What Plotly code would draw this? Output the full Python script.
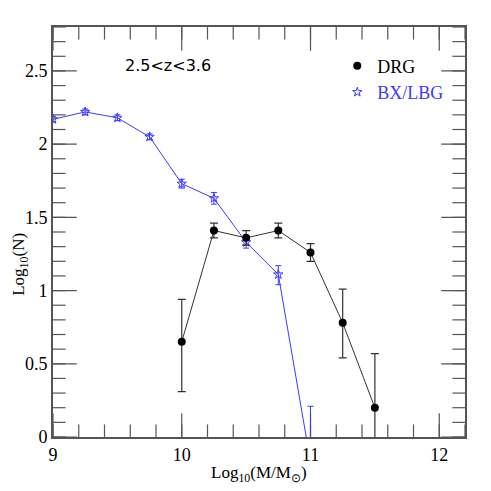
import plotly.graph_objects as go

# DRG sample
drg_x = [10.0, 10.25, 10.5, 10.75, 11.0, 11.25, 11.5]
drg_y = [0.65, 1.41, 1.36, 1.41, 1.26, 0.78, 0.20]
drg_err_up = [0.29, 0.05, 0.05, 0.05, 0.06, 0.23, 0.37]
drg_err_dn = [0.34, 0.05, 0.05, 0.05, 0.06, 0.24, 0.40]

# BX/LBG sample
bx_x = [9.0, 9.25, 9.5, 9.75, 10.0, 10.25, 10.5, 10.75, 11.0]
bx_y = [2.17, 2.22, 2.18, 2.05, 1.73, 1.63, 1.33, 1.11, -0.17]
bx_err_up = [0.02, 0.02, 0.02, 0.02, 0.03, 0.04, 0.04, 0.06, 0.38]
bx_err_dn = [0.02, 0.02, 0.02, 0.02, 0.03, 0.04, 0.04, 0.07, 0.40]

# axis ranges and tick positions
x_range = [9, 12.2]
y_range = [0, 2.8]
x_major = [9, 10, 11, 12]
x_minor = [round(9 + 0.2 * i, 1) for i in range(17)]
y_major = [0, 0.5, 1, 1.5, 2, 2.5]
y_minor = [round(0.1 * i, 1) for i in range(29)]

blue = '#3a3aff'
serif = 'Liberation Serif'
frame = '#555555'

fig = go.Figure()


# inside tick marks on all four sides, drawn as clipped line markers
def add_ticks(xs, ys, symbol, size):
    fig.add_trace(go.Scatter(x=xs, y=ys, mode='markers', showlegend=False, hoverinfo='skip',
                             marker=dict(symbol=symbol, size=size, color=frame,
                                         line=dict(width=1.2, color=frame))))


for vals, size in [(x_major, 34), (x_minor, 18)]:
    add_ticks(vals, [y_range[0]] * len(vals), 'line-ns', size)
    add_ticks(vals, [y_range[1]] * len(vals), 'line-ns', size)
for vals, size in [(y_major, 34), (y_minor, 18)]:
    add_ticks([x_range[0]] * len(vals), vals, 'line-ew', size)
    add_ticks([x_range[1]] * len(vals), vals, 'line-ew', size)

fig.add_trace(go.Scatter(
    x=bx_x, y=bx_y, mode='lines+markers', showlegend=False,
    line=dict(color=blue, width=1),
    marker=dict(symbol='star-open', size=7, color=blue, line=dict(width=1, color=blue)),
    error_y=dict(type='data', symmetric=False, array=bx_err_up, arrayminus=bx_err_dn,
                 color=blue, thickness=1, width=3),
))

fig.add_trace(go.Scatter(
    x=drg_x, y=drg_y, mode='lines+markers', showlegend=False,
    line=dict(color='#333333', width=1),
    marker=dict(symbol='circle', size=8, color='black'),
    error_y=dict(type='data', symmetric=False, array=drg_err_up, arrayminus=drg_err_dn,
                 color='#333333', thickness=1.2, width=4),
))

# legend-only entries (marker without line, as in the original)
fig.add_trace(go.Scatter(x=[None], y=[None], mode='markers', name='DRG',
                         marker=dict(symbol='circle', size=8, color='black')))
fig.add_trace(go.Scatter(x=[None], y=[None], mode='markers',
                         name='<span style="color:#3a3aff">BX/LBG</span>',
                         marker=dict(symbol='star-open', size=7, color=blue)))

axis_common = dict(
    showline=True, linecolor=frame, linewidth=2, mirror=True, ticks='',
    showgrid=False, zeroline=False,
    tickfont=dict(family=serif, size=18, color='black'),
)

fig.update_xaxes(range=x_range, tickvals=x_major, **axis_common)
fig.update_yaxes(range=y_range, tickvals=y_major, **axis_common)

fig.add_annotation(x=0.17, y=0.905, xref='paper', yref='paper', xanchor='left', yanchor='middle',
                   text='2.5<z<3.6', showarrow=False,
                   font=dict(family='DejaVu Sans', size=16, color='black'))

# axis titles
fig.add_annotation(x=0.5, y=0, xref='paper', yref='paper', xanchor='center', yanchor='top', yshift=-24,
                   text='Log<sub>10</sub>(M/M<sub>⊙</sub>)', showarrow=False,
                   font=dict(family=serif, size=17, color='black'))
fig.add_annotation(x=0, y=0.42, xref='paper', yref='paper', xanchor='right', yanchor='middle', xshift=-20,
                   text='Log<sub>10</sub>(N)', showarrow=False, textangle=-90,
                   font=dict(family=serif, size=17, color='black'))

# page body has an 8px margin, so the figure is shifted by 8px
fig.update_layout(
    width=483, height=483,
    margin=dict(l=45, r=26, t=19, b=54),
    paper_bgcolor='white', plot_bgcolor='white',
    showlegend=True,
    legend=dict(x=0.69, y=0.95, xanchor='left', yanchor='top', bgcolor='rgba(0,0,0,0)',
                itemwidth=30, tracegroupgap=8,
                font=dict(family=serif, size=18, color='black')),
)

fig.write_html('out.html')
